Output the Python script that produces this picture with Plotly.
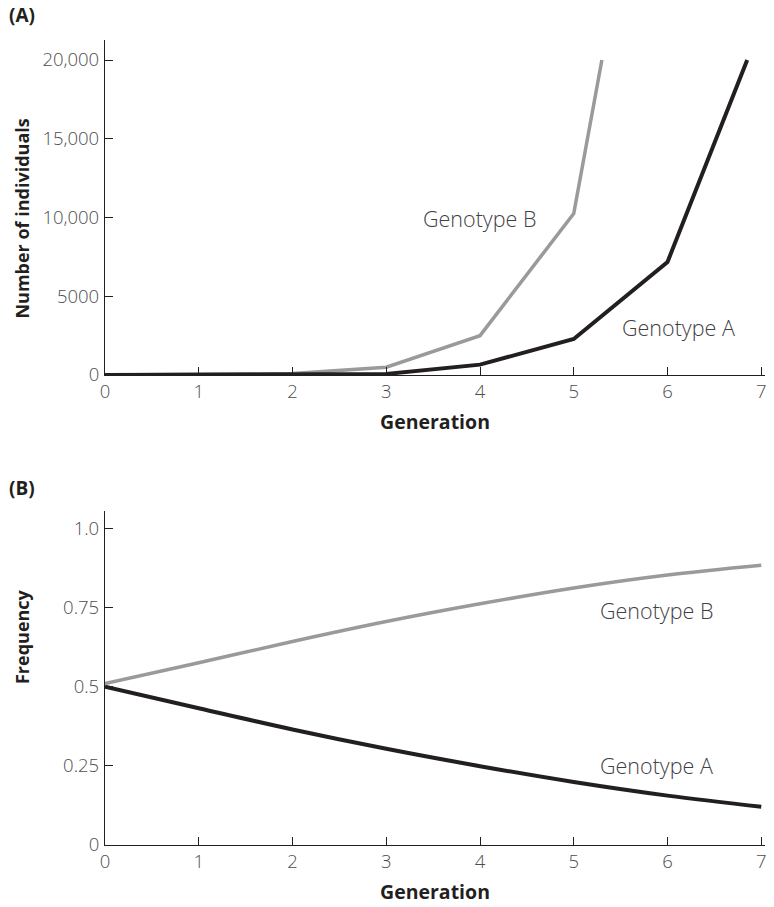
import plotly.graph_objects as go

# ---- Data ----
# Panel A: number of individuals (lines clipped at the 20,000 top of the chart)
gen_a_top = [0, 1, 2, 3, 4, 5, 6, 6.85]
num_a = [0, 10, 30, 60, 650, 2280, 7170, 20000]
gen_b_top = [0, 1, 2, 3, 4, 5, 5.3]
num_b = [0, 15, 80, 490, 2490, 10250, 20000]

# Panel B: frequency
generations = [0, 1, 2, 3, 4, 5, 6, 7]
freq_a = [0.50, 0.432, 0.365, 0.304, 0.249, 0.199, 0.156, 0.121]
freq_b = [0.51, 0.576, 0.643, 0.706, 0.762, 0.812, 0.853, 0.884]

x_ticks = [0, 1, 2, 3, 4, 5, 6, 7]
y_ticks_top = [0, 5000, 10000, 15000, 20000]
y_ticklabels_top = ["0", "5000", "10,000", "15,000", "20,000"]
y_ticks_bot = [0, 0.25, 0.5, 0.75, 1.0]
y_ticklabels_bot = ["0", "0.25", "0.5", "0.75", "1.0"]

BLACK = "#231f20"
GRAY = "#9a9a9a"
TICKCOL = "#4d4d4f"
FONT = "Open Sans"

fig = go.Figure()
fig.add_trace(go.Scatter(x=gen_b_top, y=num_b, mode="lines",
                         line=dict(color=GRAY, width=3.5), xaxis="x", yaxis="y"))
fig.add_trace(go.Scatter(x=gen_a_top, y=num_a, mode="lines",
                         line=dict(color=BLACK, width=4), xaxis="x", yaxis="y"))
fig.add_trace(go.Scatter(x=generations, y=freq_b, mode="lines",
                         line=dict(color=GRAY, width=3.5, shape="spline", smoothing=1.0),
                         xaxis="x2", yaxis="y2"))
fig.add_trace(go.Scatter(x=generations, y=freq_a, mode="lines",
                         line=dict(color=BLACK, width=4, shape="spline", smoothing=1.0),
                         xaxis="x2", yaxis="y2"))

tickfont = dict(family=FONT, size=18.5, color=TICKCOL, weight=300)
titlefont = dict(family=FONT, size=19.5, color=BLACK, weight="bold")
ytitlefont = dict(family=FONT, size=18, color=BLACK, weight="bold")

common_x = dict(range=[0, 7.04], tickvals=x_ticks, ticks="inside", ticklen=8,
                tickcolor=BLACK, tickwidth=1, showline=True, linecolor=BLACK,
                linewidth=1.2, showgrid=False, zeroline=False, tickfont=tickfont,
                title=dict(text="Generation", font=titlefont, standoff=13),
                fixedrange=True)
common_y = dict(ticks="inside", ticklen=8, tickcolor=BLACK, tickwidth=1,
                showline=True, linecolor=BLACK, linewidth=1.2, showgrid=False,
                zeroline=False, tickfont=tickfont, ticklabelstandoff=1)

fig.update_layout(
    width=774, height=907,
    margin=dict(l=105, r=7, t=40, b=59),
    paper_bgcolor="white", plot_bgcolor="white",
    showlegend=False,
    xaxis=dict(**common_x, domain=[0, 1], anchor="y"),
    yaxis=dict(**common_y, domain=[0.584, 1], anchor="x", range=[0, 21270],
               tickvals=y_ticks_top, ticktext=y_ticklabels_top),
    xaxis2=dict(**common_x, domain=[0, 1], anchor="y2"),
    yaxis2=dict(**common_y, domain=[0, 0.4148], anchor="x2", range=[0, 1.055],
                tickvals=y_ticks_bot, ticktext=y_ticklabels_bot),
)

ann_font = dict(family=FONT, size=21.5, color="#414042", weight=300)
annotations = [
    dict(x=3.99, y=9937, xref="x", yref="y", text="Genotype B"),
    dict(x=6.12, y=3038, xref="x", yref="y", text="Genotype A"),
    dict(x=5.88, y=0.740, xref="x2", yref="y2", text="Genotype B"),
    dict(x=5.88, y=0.251, xref="x2", yref="y2", text="Genotype A"),
]
for a in annotations:
    fig.add_annotation(**a, showarrow=False, font=ann_font,
                       xanchor="center", yanchor="middle")

plot_h = 907 - 40 - 59
plot_w = 774 - 105 - 7


def to_paper(px, py):
    return (px - 105) / plot_w, (907 - 59 - py) / plot_h


panel_font = dict(family=FONT, size=19, color=BLACK, weight="bold")
for label, px, py in [("(A)", 7, 15), ("(B)", 7, 490)]:
    x, y = to_paper(px, py)
    fig.add_annotation(x=x, y=y, xref="paper", yref="paper", text=label,
                       showarrow=False, font=panel_font,
                       xanchor="left", yanchor="middle")

# rotated y-axis titles
for label, px, py in [("Number of individuals", 22, 219), ("Frequency", 22, 639)]:
    x, y = to_paper(px, py)
    fig.add_annotation(x=x, y=y, xref="paper", yref="paper", text=label,
                       showarrow=False, font=ytitlefont, textangle=-90,
                       xanchor="center", yanchor="middle")

fig.write_html("out.html")
